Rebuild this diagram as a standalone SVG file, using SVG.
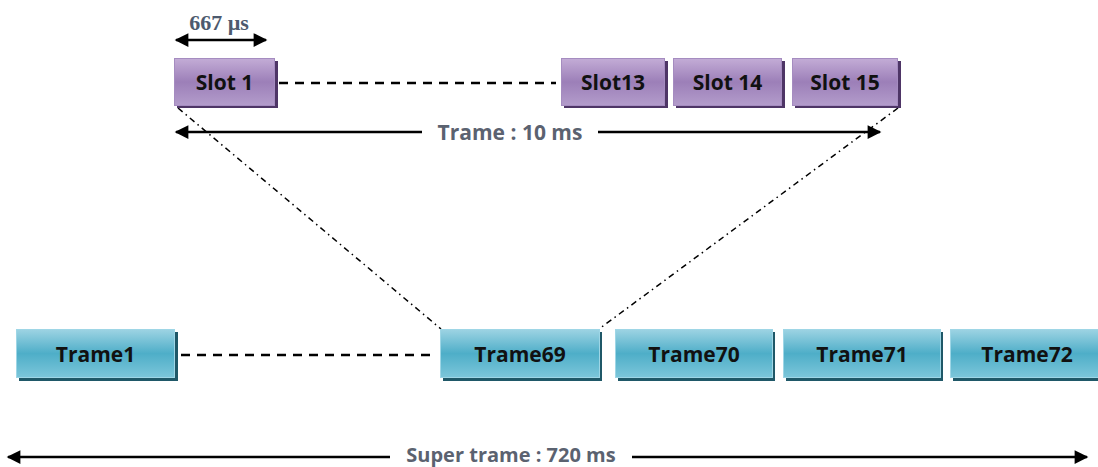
<svg xmlns="http://www.w3.org/2000/svg" width="1098" height="467" viewBox="0 0 1098 467">
<style>
.lbl{font-family:"Open Sans","Liberation Sans",sans-serif;font-weight:bold;font-size:21px;fill:#111;text-anchor:middle}
.dim{font-family:"Open Sans","Liberation Sans",sans-serif;font-weight:bold;font-size:21px;fill:#5b6270;text-anchor:middle}
.slot{fill:url(#gp);stroke:#a58cc0;stroke-width:1}
.slotsh{fill:#4e3566}
.tr{fill:url(#gt);stroke:#9ed6e6;stroke-width:1}
.trsh{fill:#1f5868}
.arr{stroke:#000;stroke-width:2.5;fill:none;marker-start:url(#ah);marker-end:url(#ah)}
.arr1{stroke:#000;stroke-width:2.5;fill:none}
.dash{stroke:#000;stroke-width:2.5;stroke-dasharray:9 7;fill:none}
.dd{stroke:#000;stroke-width:1.5;stroke-dasharray:6 4 1.5 4;fill:none}
</style>
<defs>
<linearGradient id="gp" x1="0" y1="0" x2="0" y2="1">
<stop offset="0" stop-color="#c3acd6"/>
<stop offset="0.5" stop-color="#9c7fb8"/>
<stop offset="1" stop-color="#b39ccb"/>
</linearGradient>
<linearGradient id="gt" x1="0" y1="0" x2="0" y2="1">
<stop offset="0" stop-color="#9dd3e3"/>
<stop offset="0.5" stop-color="#4eaec8"/>
<stop offset="1" stop-color="#7cc6da"/>
</linearGradient>
<marker id="ah" viewBox="0 0 10 10" refX="9" refY="5" markerWidth="7" markerHeight="5.5" orient="auto-start-reverse" markerUnits="strokeWidth">
<path d="M0,0 L10,5 L0,10 z" fill="#000"/>
</marker>
</defs>
<g id="connectors">
<line class="dash" x1="279" y1="83" x2="556" y2="83"/>
<line class="dash" x1="181" y1="355" x2="434" y2="355"/>
<line class="dd" x1="178" y1="108" x2="441" y2="329"/>
<line class="dd" x1="898" y1="108" x2="599" y2="329"/>
<line class="arr" x1="176" y1="40" x2="266" y2="40"/>
<line class="arr1" x1="176" y1="132" x2="422" y2="132" marker-start="url(#ah)"/>
<line class="arr1" x1="598" y1="132" x2="880" y2="132" marker-end="url(#ah)"/>
<line class="arr1" x1="8" y1="457" x2="390" y2="457" marker-start="url(#ah)"/>
<line class="arr1" x1="632" y1="457" x2="1087" y2="457" marker-end="url(#ah)"/>
</g>
<g id="labels">
<text x="219" y="30" style="font-family:'Liberation Serif',serif;font-weight:bold;font-size:22px;fill:#4d5a6e;text-anchor:middle">667 µs</text>
<text class="dim" x="510" y="140">Trame : 10 ms</text>
<text class="dim" x="511" y="462" style="font-size:20px">Super trame : 720 ms</text>
</g>
<g id="slot1">
<rect class="slotsh" x="177" y="61" width="101" height="47"/>
<rect class="slot" x="174.5" y="58.5" width="100" height="47"/>
<text class="lbl" x="224.5" y="90">Slot 1</text>
</g>
<g id="slot13">
<rect class="slotsh" x="564" y="61" width="104" height="47"/>
<rect class="slot" x="561.5" y="58.5" width="103" height="47"/>
<text class="lbl" x="613" y="90">Slot13</text>
</g>
<g id="slot14">
<rect class="slotsh" x="676" y="61" width="109" height="47"/>
<rect class="slot" x="673.5" y="58.5" width="108" height="47"/>
<text class="lbl" x="727.5" y="90">Slot 14</text>
</g>
<g id="slot15">
<rect class="slotsh" x="795" y="61" width="106" height="47"/>
<rect class="slot" x="792.5" y="58.5" width="105" height="47"/>
<text class="lbl" x="845" y="90">Slot 15</text>
</g>
<g id="trame1">
<rect class="trsh" x="19" y="332" width="159" height="49"/>
<rect class="tr" x="16.5" y="329.5" width="158" height="48"/>
<text class="lbl" x="95.5" y="362">Trame1</text>
</g>
<g id="trame69">
<rect class="trsh" x="443" y="332" width="159" height="49"/>
<rect class="tr" x="440.5" y="329.5" width="159" height="48"/>
<text class="lbl" x="520" y="362">Trame69</text>
</g>
<g id="trame70">
<rect class="trsh" x="618" y="332" width="157" height="49"/>
<rect class="tr" x="615.5" y="329.5" width="157" height="48"/>
<text class="lbl" x="694" y="362">Trame70</text>
</g>
<g id="trame71">
<rect class="trsh" x="786" y="332" width="157" height="49"/>
<rect class="tr" x="783.5" y="329.5" width="157" height="48"/>
<text class="lbl" x="862" y="362">Trame71</text>
</g>
<g id="trame72">
<rect class="trsh" x="953" y="332" width="148" height="49"/>
<rect class="tr" x="950.5" y="329.5" width="148" height="48"/>
<text class="lbl" x="1027" y="362">Trame72</text>
</g>
</svg>
